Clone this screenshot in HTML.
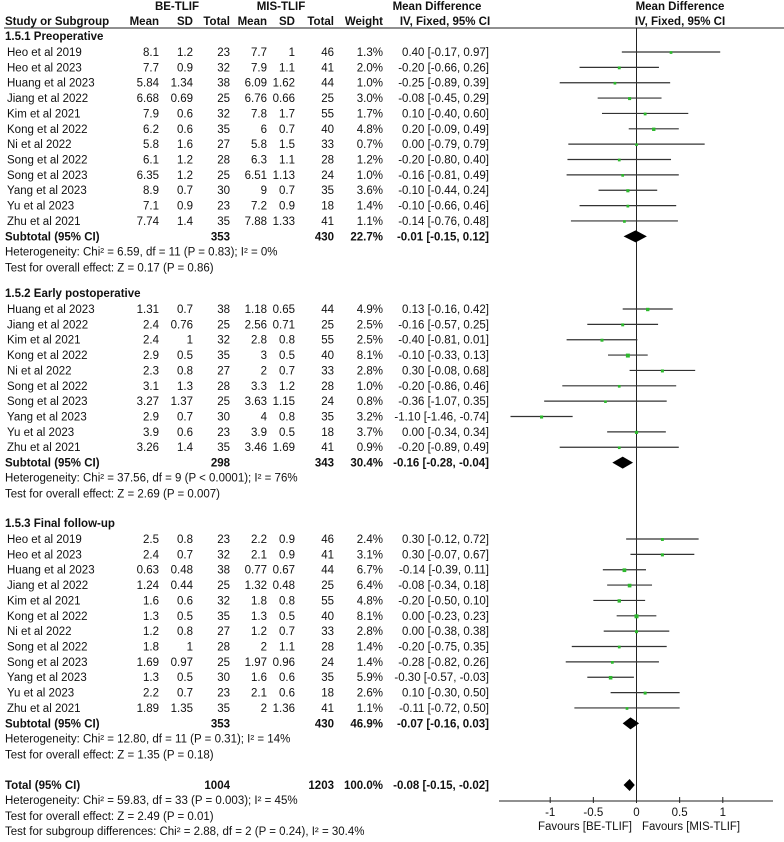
<!DOCTYPE html>
<html><head><meta charset="utf-8"><style>
html,body{margin:0;padding:0;background:#fff}
svg{display:block}
text{font-family:"Liberation Sans",Arial,sans-serif;font-size:11.5px;fill:#111}
.b{font-weight:bold}
</style></head><body>
<svg id="chart" width="784" height="842" viewBox="0 0 784 842" xmlns="http://www.w3.org/2000/svg"></svg>
<script>
const sec1Studies=["Heo et al 2019","Heo et al 2023","Huang et al 2023","Jiang et al 2022","Kim et al 2021","Kong et al 2022","Ni et al 2022","Song et al 2022","Song et al 2023","Yang et al 2023","Yu et al 2023","Zhu et al 2021"];
const sec1Vals=[["8.1","1.2","23","7.7","1","46","1.3%"],["7.7","0.9","32","7.9","1.1","41","2.0%"],["5.84","1.34","38","6.09","1.62","44","1.0%"],["6.68","0.69","25","6.76","0.66","25","3.0%"],["7.9","0.6","32","7.8","1.7","55","1.7%"],["6.2","0.6","35","6","0.7","40","4.8%"],["5.8","1.6","27","5.8","1.5","33","0.7%"],["6.1","1.2","28","6.3","1.1","28","1.2%"],["6.35","1.2","25","6.51","1.13","24","1.0%"],["8.9","0.7","30","9","0.7","35","3.6%"],["7.1","0.9","23","7.2","0.9","18","1.4%"],["7.74","1.4","35","7.88","1.33","41","1.1%"]];
const sec1Est=[0.40,-0.20,-0.25,-0.08,0.10,0.20,0.00,-0.20,-0.16,-0.10,-0.10,-0.14];
const sec1Lo=[-0.17,-0.66,-0.89,-0.45,-0.40,-0.09,-0.79,-0.80,-0.81,-0.44,-0.66,-0.76];
const sec1Hi=[0.97,0.26,0.39,0.29,0.60,0.49,0.79,0.40,0.49,0.24,0.46,0.48];
const sec1Sub=["353","430","22.7%",-0.01,-0.15,0.12];

const sec2Studies=["Huang et al 2023","Jiang et al 2022","Kim et al 2021","Kong et al 2022","Ni et al 2022","Song et al 2022","Song et al 2023","Yang et al 2023","Yu et al 2023","Zhu et al 2021"];
const sec2Vals=[["1.31","0.7","38","1.18","0.65","44","4.9%"],["2.4","0.76","25","2.56","0.71","25","2.5%"],["2.4","1","32","2.8","0.8","55","2.5%"],["2.9","0.5","35","3","0.5","40","8.1%"],["2.3","0.8","27","2","0.7","33","2.8%"],["3.1","1.3","28","3.3","1.2","28","1.0%"],["3.27","1.37","25","3.63","1.15","24","0.8%"],["2.9","0.7","30","4","0.8","35","3.2%"],["3.9","0.6","23","3.9","0.5","18","3.7%"],["3.26","1.4","35","3.46","1.69","41","0.9%"]];
const sec2Est=[0.13,-0.16,-0.40,-0.10,0.30,-0.20,-0.36,-1.10,0.00,-0.20];
const sec2Lo=[-0.16,-0.57,-0.81,-0.33,-0.08,-0.86,-1.07,-1.46,-0.34,-0.89];
const sec2Hi=[0.42,0.25,0.01,0.13,0.68,0.46,0.35,-0.74,0.34,0.49];
const sec2Sub=["298","343","30.4%",-0.16,-0.28,-0.04];

const sec3Studies=["Heo et al 2019","Heo et al 2023","Huang et al 2023","Jiang et al 2022","Kim et al 2021","Kong et al 2022","Ni et al 2022","Song et al 2022","Song et al 2023","Yang et al 2023","Yu et al 2023","Zhu et al 2021"];
const sec3Vals=[["2.5","0.8","23","2.2","0.9","46","2.4%"],["2.4","0.7","32","2.1","0.9","41","3.1%"],["0.63","0.48","38","0.77","0.67","44","6.7%"],["1.24","0.44","25","1.32","0.48","25","6.4%"],["1.6","0.6","32","1.8","0.8","55","4.8%"],["1.3","0.5","35","1.3","0.5","40","8.1%"],["1.2","0.8","27","1.2","0.7","33","2.8%"],["1.8","1","28","2","1.1","28","1.4%"],["1.69","0.97","25","1.97","0.96","24","1.4%"],["1.3","0.5","30","1.6","0.6","35","5.9%"],["2.2","0.7","23","2.1","0.6","18","2.6%"],["1.89","1.35","35","2","1.36","41","1.1%"]];
const sec3Est=[0.30,0.30,-0.14,-0.08,-0.20,0.00,0.00,-0.20,-0.28,-0.30,0.10,-0.11];
const sec3Lo=[-0.12,-0.07,-0.39,-0.34,-0.50,-0.23,-0.38,-0.75,-0.82,-0.57,-0.30,-0.72];
const sec3Hi=[0.72,0.67,0.11,0.18,0.10,0.23,0.38,0.35,0.26,-0.03,0.50,0.50];
const sec3Sub=["353","430","46.9%",-0.07,-0.16,0.03];

const totalVals=["1004","1203","100.0%",-0.08,-0.15,-0.02];
const axisTicks=[-1,-0.5,0,0.5,1];
const axisTickLabels=["-1","-0.5","0","0.5","1"];

const svg=document.getElementById('chart');
const NS='http://www.w3.org/2000/svg';
const X0=636.5, PX=86.3;
function xs(v){return X0+v*PX;}
function mk(tag,attrs,parent){const e=document.createElementNS(NS,tag);for(const k in attrs)e.setAttribute(k,attrs[k]);(parent||svg).appendChild(e);return e;}
function txt(s,x,y,anchor,bold,name){const t=mk('text',{x:x,y:y,'text-anchor':anchor||'start'});if(bold)t.setAttribute('class','b');t.textContent=s;


return t;}
const colR=[159,193,230,267,295,334,383];
function fmt(v){return (v<0?'-':'')+Math.abs(v).toFixed(2);}
function ci(e,l,h){return fmt(e)+' ['+fmt(l)+', '+fmt(h)+']';}

txt('BE-TLIF',177,10,'middle',true,'group-header-be-tlif');
txt('MIS-TLIF',281,10,'middle',true,'group-header-mis-tlif');
txt('Mean Difference',437,10,'middle',true,'effect-header');
txt('Mean Difference',680,10,'middle',true,'plot-header');
txt('Study or Subgroup',5,25,'start',true,'study-column-header');
const hdr=['Mean','SD','Total','Mean','SD','Total','Weight'];
hdr.forEach((h,i)=>txt(h,colR[i],25,'end',true,'column-header'));
txt('IV, Fixed, 95% CI',445,25,'middle',true,'ci-column-header');
txt('IV, Fixed, 95% CI',680,25,'middle',true,'plot-ci-header');
const ul=mk('line',{x1:4,y1:28,x2:784,y2:28,stroke:'#222','stroke-width':1});


const zl=mk('line',{x1:X0,y1:28,x2:X0,y2:801,stroke:'#222','stroke-width':1});



function diamond(e,l,h,y,name){const p=mk('polygon',{points:`${xs(l)},${y} ${xs(e)},${y-6} ${xs(h)},${y} ${xs(e)},${y+6}`,fill:'#000'});

}

function section(title,yHead,studies,vals,est,lo,hi,sub,het,test,secName){
  txt(title,5,yHead+4,'start',true,secName+'-title');
  const yStart=yHead+16, sp=15.36;
  studies.forEach((s,i)=>{
    const y=yStart+i*sp;
    txt(s,7,y+4,'start',false,'study-name');
    vals[i].forEach((v,j)=>txt(v,colR[j],y+4,'end',false,'study-value'));
    txt(ci(est[i],lo[i],hi[i]),489,y+4,'end',false,'study-ci');
    const l=mk('line',{x1:xs(lo[i]),y1:y,x2:xs(hi[i]),y2:y,stroke:'#333','stroke-width':1.2});
    
    
    const w=parseFloat(vals[i][6]);const sz=2.5+w*0.18;
    const r=mk('rect',{x:xs(est[i])-sz/2,y:y+0.5-sz/2,width:sz,height:sz,fill:'#2db82d'});
    
    
  });
  const ys=yStart+studies.length*sp;
  txt('Subtotal (95% CI)',5,ys+4,'start',true,'subtotal-label');
  txt(sub[0],colR[2],ys+4,'end',true,'subtotal-be-total');
  txt(sub[1],colR[5],ys+4,'end',true,'subtotal-mis-total');
  txt(sub[2],colR[6],ys+4,'end',true,'subtotal-weight');
  txt(ci(sub[3],sub[4],sub[5]),489,ys+4,'end',true,'subtotal-ci');
  diamond(sub[3],sub[4],sub[5],ys,'subtotal-diamond');
  txt(het,5,ys+19,'start',false,'heterogeneity-text');
  txt(test,5,ys+35,'start',false,'overall-effect-text');
}
section('1.5.1 Preoperative',36,sec1Studies,sec1Vals,sec1Est,sec1Lo,sec1Hi,sec1Sub,'Heterogeneity: Chi² = 6.59, df = 11 (P = 0.83); I² = 0%','Test for overall effect: Z = 0.17 (P = 0.86)','preoperative');
section('1.5.2 Early postoperative',293,sec2Studies,sec2Vals,sec2Est,sec2Lo,sec2Hi,sec2Sub,'Heterogeneity: Chi² = 37.56, df = 9 (P < 0.0001); I² = 76%','Test for overall effect: Z = 2.69 (P = 0.007)','early-postoperative');
section('1.5.3 Final follow-up',523,sec3Studies,sec3Vals,sec3Est,sec3Lo,sec3Hi,sec3Sub,'Heterogeneity: Chi² = 12.80, df = 11 (P = 0.31); I² = 14%','Test for overall effect: Z = 1.35 (P = 0.18)','final-follow-up');

const yT=785;
txt('Total (95% CI)',5,yT+4,'start',true,'total-label');
txt(totalVals[0],colR[2],yT+4,'end',true,'total-be');
txt(totalVals[1],colR[5],yT+4,'end',true,'total-mis');
txt(totalVals[2],colR[6],yT+4,'end',true,'total-weight');
txt(ci(totalVals[3],totalVals[4],totalVals[5]),489,yT+4,'end',true,'total-ci');
diamond(totalVals[3],totalVals[4],totalVals[5],yT,'total-diamond');
txt('Heterogeneity: Chi² = 59.83, df = 33 (P = 0.003); I² = 45%',5,yT+19,'start',false,'total-heterogeneity');
txt('Test for overall effect: Z = 2.49 (P = 0.01)',5,yT+35,'start',false,'total-overall-effect');
txt('Test for subgroup differences: Chi² = 2.88, df = 2 (P = 0.24), I² = 30.4%',5,yT+50,'start',false,'subgroup-differences');

const ax=mk('line',{x1:499,y1:801,x2:773,y2:801,stroke:'#222','stroke-width':1});


axisTicks.forEach((t,i)=>{
  const tk=mk('line',{x1:xs(t),y1:797,x2:xs(t),y2:803,stroke:'#222','stroke-width':1});
  
  
  txt(axisTickLabels[i],xs(t),816,'middle',false,'x-tick-label');
});
const fl=txt('Favours [BE-TLIF]',538,830,'start',false,'favours-left-label');
fl.setAttribute('textLength','94');fl.setAttribute('lengthAdjust','spacingAndGlyphs');
const fr=txt('Favours [MIS-TLIF]',642,830,'start',false,'favours-right-label');
fr.setAttribute('textLength','98');fr.setAttribute('lengthAdjust','spacingAndGlyphs');
</script>
</body></html>
